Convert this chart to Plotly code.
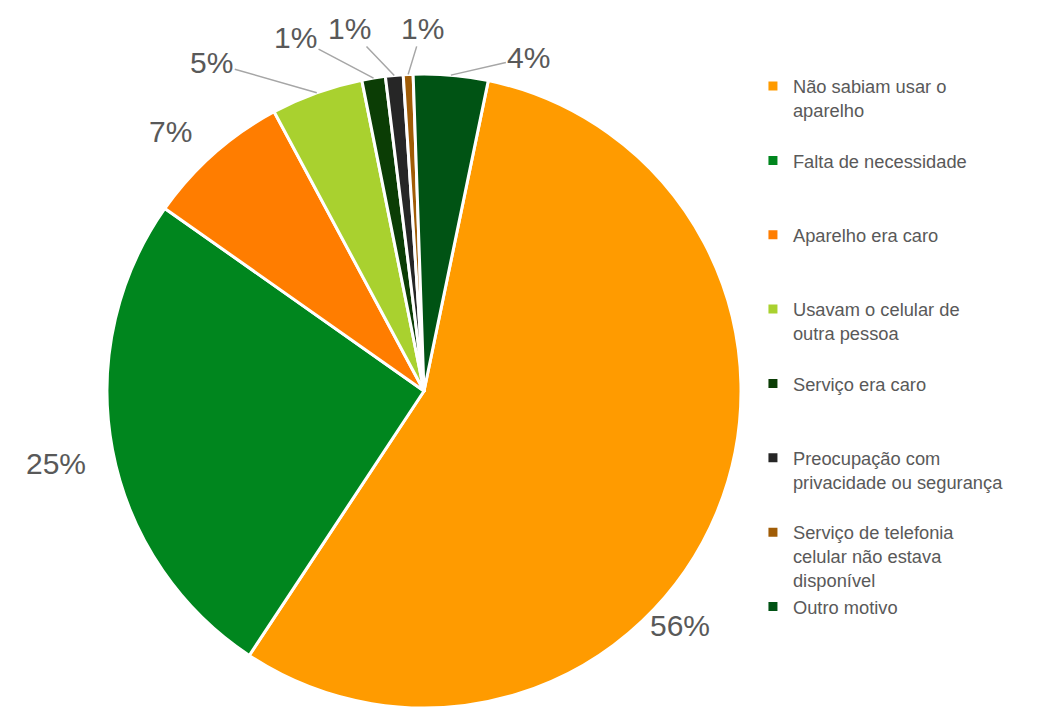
import math
import plotly.graph_objects as go

# slice data (clockwise from the orange slice)
labels = [
    "Não sabiam usar o<br>aparelho",
    "Falta de necessidade",
    "Aparelho era caro",
    "Usavam o celular de<br>outra pessoa",
    "Serviço era caro",
    "Preocupação com<br>privacidade ou segurança",
    "Serviço de telefonia<br>celular não estava<br>disponível",
    "Outro motivo",
]
values = [56.1, 25.5, 7.4, 4.7, 1.2, 0.9, 0.5, 3.8]
pct_text = ["56%", "25%", "7%", "5%", "1%", "1%", "1%", "4%"]
colors = ["#FF9B00", "#00861E", "#FF7D00", "#A9D12F",
          "#0B3D05", "#262626", "#A05C06", "#005314"]

# label offsets (px) from slice edge, and whether a leader line is drawn
label_off = [(-37, 113), (-57, 14), (-43, -22), (-105, -30),
             (-78, -41), (-45, -47), (14, -46), (78, -18)]
leader = [False, False, False, True, True, True, True, True]

W, H = 1041, 708
rotation = 11.7
dom_x = [0.10279, 0.71182]
dom_y = [0.0, 0.89548]

# pad every legend entry to three lines so the spacing is even
legend_names = []
for lab in labels:
    n = lab.count("<br>") + 1
    legend_names.append(lab + "<br> " * (3 - n))

fig = go.Figure(go.Pie(
    labels=legend_names,
    values=values,
    sort=False,
    direction="clockwise",
    rotation=rotation,
    marker=dict(colors=colors, line=dict(color="white", width=3)),
    textinfo="none",
    hoverinfo="label+percent",
    domain=dict(x=dom_x, y=dom_y),
))

# percentage labels placed from each slice's mid angle
cx = (dom_x[0] + dom_x[1]) / 2 * W
cy = (1 - (dom_y[0] + dom_y[1]) / 2) * H
r = min((dom_x[1] - dom_x[0]) * W, (dom_y[1] - dom_y[0]) * H) / 2
total = sum(values)
start = rotation
for i, v in enumerate(values):
    mid = math.radians(start + v / total * 360 / 2)
    start += v / total * 360
    px = cx + r * math.sin(mid)
    py = cy - r * math.cos(mid)
    ax, ay = label_off[i]
    fig.add_annotation(
        x=px / W, y=1 - py / H, xref="paper", yref="paper",
        text=pct_text[i], showarrow=True, ax=ax, ay=ay,
        arrowhead=0, arrowwidth=1.5, standoff=0,
        arrowcolor="#A6A6A6" if leader[i] else "rgba(0,0,0,0)",
        font=dict(size=30, color="#595959"),
    )

fig.update_layout(
    width=W, height=H,
    margin=dict(l=0, r=0, t=0, b=0),
    paper_bgcolor="white",
    font=dict(family="Arial, Liberation Sans, sans-serif", color="#595959"),
    legend=dict(
        x=0.7233, xanchor="left", y=0.9045, yanchor="top",
        valign="top", font=dict(size=18.3, color="#595959"),
        tracegroupgap=0,
    ),
)

fig.write_html("out.html", config={"displayModeBar": False},
               post_script="document.body.style.margin='0';document.body.style.overflow='hidden';")
